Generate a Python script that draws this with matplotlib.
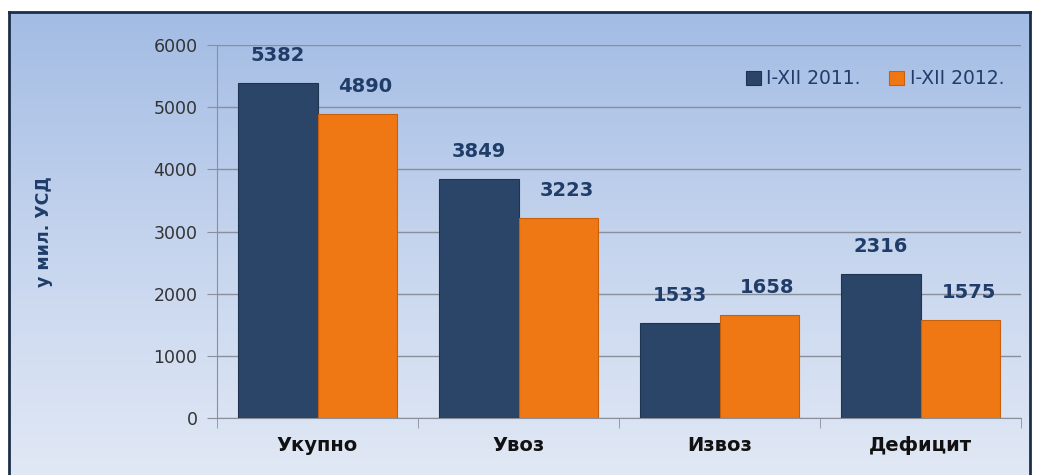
import numpy as np
import matplotlib
matplotlib.use('Agg')
import matplotlib.pyplot as plt
from matplotlib.colors import LinearSegmentedColormap

categories = ['Укупно', 'Увоз', 'Извоз', 'Дефицит']
vals_2011 = [5382, 3849, 1533, 2316]
vals_2012 = [4890, 3223, 1658, 1575]
series_names = ['I-XII 2011.', 'I-XII 2012.']
y_ticks = [0, 1000, 2000, 3000, 4000, 5000, 6000]

navy = '#2b4568'
orange = '#f07814'
label_blue = '#1f3d68'

fig = plt.figure(figsize=(10.42, 4.75), dpi=100)
fig.patch.set_facecolor('white')

# gradient background inside frame
bg = fig.add_axes([9/1042, -0.02, (1030-9)/1042, 1 - 12/475 + 0.02])
grad = np.linspace(0, 1, 256).reshape(-1, 1)
cmap = LinearSegmentedColormap.from_list('bg', ['#a3bce4', '#c6d5ee', '#e2e9f5'])
bg.imshow(grad, aspect='auto', cmap=cmap, extent=[0, 1, 0, 1], origin='upper')
bg.set_xticks([])
bg.set_yticks([])
for s in bg.spines.values():
    s.set_color('#1c2f4a')
    s.set_linewidth(2)

ax = fig.add_axes([217/1042, 1 - 418/475, (1021-217)/1042, (418-45)/475])
ax.set_facecolor('none')

x = np.arange(len(categories))
w = 0.395
b1 = ax.bar(x - w/2, vals_2011, w, color=navy, edgecolor='#1e3450', linewidth=0.8,
            label=series_names[0], zorder=3)
b2 = ax.bar(x + w/2, vals_2012, w, color=orange, edgecolor='#c85f0a', linewidth=0.8,
            label=series_names[1], zorder=3)

for bars, dx in [(b1, 0), (b2, 6)]:
    for r in bars:
        h = r.get_height()
        ax.annotate(str(int(h)), (r.get_x() + r.get_width()/2, h),
                    xytext=(dx, 13), textcoords='offset points',
                    ha='center', va='bottom', fontsize=14, fontweight='bold',
                    color=label_blue, zorder=4)

ax.set_ylim(0, 6000)
ax.set_xlim(-0.5, len(categories) - 0.5)
ax.set_yticks(y_ticks)
ax.set_yticklabels([str(t) for t in y_ticks], fontsize=12.5, color='#333333')
ax.yaxis.grid(True, color='#8a8f99', linewidth=1, zorder=0)
ax.tick_params(axis='y', length=7, color='#8a8f99', pad=7)

ax.set_xticks(x)
ax.set_xticklabels(categories, fontsize=14, fontweight='bold', color='#111111')
ax.set_xticks(np.arange(len(categories) + 1) - 0.5, minor=True)
ax.tick_params(axis='x', which='major', length=0, pad=13)
ax.tick_params(axis='x', which='minor', length=7, color='#8a8f99')

for side in ['top', 'right']:
    ax.spines[side].set_visible(False)
ax.spines['left'].set_color('#8a8f99')
ax.spines['bottom'].set_color('#8a8f99')

ax.set_ylabel('у мил. УСД', fontsize=12.5, fontweight='bold', color=label_blue, labelpad=72)

leg = ax.legend(loc='upper right', bbox_to_anchor=(1.0, 0.98), ncol=2, frameon=False,
                fontsize=13.5, handlelength=0.8, handleheight=0.8, handletextpad=0.3,
                columnspacing=1.5)
for t in leg.get_texts():
    t.set_color(label_blue)

fig.savefig('out.png', dpi=100)
